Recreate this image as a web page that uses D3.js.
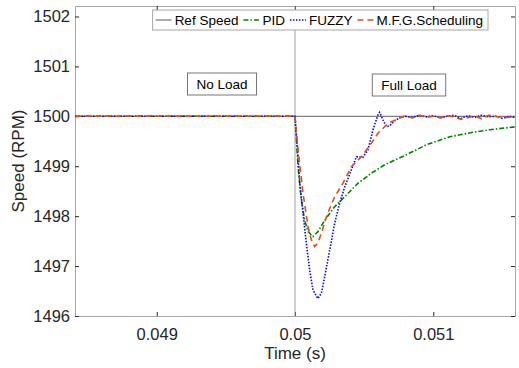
<!DOCTYPE html>
<html>
<head>
<meta charset="utf-8">
<script src="https://cdn.jsdelivr.net/npm/d3@7"></script>
<style>
  body { margin: 0; background: #fff; }
  text { font-family: "Liberation Sans", Arial, sans-serif; }
</style>
</head>
<body>
<div id="chart"></div>
<script>
// Chart size
var svgWidth = 519;
var svgHeight = 368;

var margin = { top: 6, right: 4, bottom: 52, left: 75 };
var width = svgWidth - margin.left - margin.right;
var height = svgHeight - margin.top - margin.bottom;

// ---- data ----
var seriesNames = ["Ref Speed", "PID", "FUZZY", "M.F.G.Scheduling"];

var xTicks = [0.049, 0.05, 0.051];
var xTickLabels = ["0.049", "0.05", "0.051"];
var yTicks = [1496, 1497, 1498, 1499, 1500, 1501, 1502];

var refTime = [0.04841, 0.05159];
var refSpeed = [1500, 1500];

var pidTime = [0.04841, 0.0492, 0.0498, 0.05, 0.050022, 0.050046, 0.05007, 0.050094, 0.05013, 0.050166, 0.050215,
  0.050287, 0.05036, 0.050456, 0.050552, 0.050649, 0.050806, 0.05095, 0.051119, 0.051287, 0.051408, 0.05159];
var pidSpeed = [1500, 1500, 1500, 1500, 1498.99, 1498.32, 1497.92, 1497.69, 1497.59, 1497.69, 1497.92,
  1498.19, 1498.39, 1498.66, 1498.86, 1499.03, 1499.23, 1499.43, 1499.59, 1499.68, 1499.73, 1499.79];

var fuzzyTime = [0.04841, 0.0492, 0.0498, 0.05, 0.050022, 0.050034, 0.050058, 0.050082, 0.050106, 0.05013, 0.050166,
  0.050191, 0.050215, 0.050251, 0.050287, 0.050323, 0.05036, 0.050408, 0.050444, 0.050492, 0.050528, 0.050564,
  0.0506, 0.050612, 0.050636, 0.050661, 0.050685, 0.050721, 0.050757, 0.0508, 0.05085, 0.0509, 0.05095, 0.051,
  0.05105, 0.0511, 0.05115, 0.0512, 0.05125, 0.0513, 0.05135, 0.0514, 0.05145, 0.0515, 0.05155, 0.05159];
var fuzzySpeed = [1500, 1500, 1500, 1500, 1499.19, 1498.67, 1498.06, 1497.46, 1496.92, 1496.52, 1496.35,
  1496.46, 1496.79, 1497.32, 1497.86, 1498.26, 1498.59, 1498.93, 1499.19, 1499.18, 1499.33, 1499.73,
  1500.03, 1500.08, 1499.93, 1499.79, 1499.81, 1499.91, 1499.97, 1500.0, 1499.98, 1500.02, 1499.99, 1500.01,
  1499.97, 1500.0, 1500.02, 1499.96, 1500.01, 1499.98, 1500.02, 1499.99, 1500.0, 1499.96, 1500.0, 1499.98];

var mfgTime = [0.04841, 0.0492, 0.0498, 0.05, 0.050022, 0.050058, 0.050094, 0.050119, 0.050142, 0.050166, 0.050191,
  0.050227, 0.050287, 0.050347, 0.050408, 0.05048, 0.050552, 0.0506, 0.050672, 0.050769, 0.0508, 0.05085,
  0.0509, 0.05095, 0.051, 0.05105, 0.0511, 0.05115, 0.0512, 0.05125, 0.0513, 0.05135, 0.0514, 0.05145, 0.0515, 0.05159];
var mfgSpeed = [1500, 1500, 1500, 1500, 1499.33, 1498.46, 1497.79, 1497.52, 1497.39, 1497.46, 1497.66,
  1497.99, 1498.39, 1498.66, 1498.99, 1499.19, 1499.46, 1499.66, 1499.86, 1499.98, 1500.01, 1499.97,
  1500.02, 1499.98, 1500.0, 1499.97, 1500.01, 1499.99, 1499.94, 1499.97, 1500.01, 1499.95, 1500.02, 1500.0, 1499.97, 1499.99];

// ---- svg ----
var svg = d3.select("#chart")
  .append("svg")
  .attr("width", svgWidth)
  .attr("height", svgHeight);

var chartGroup = svg.append("g")
  .attr("transform", `translate(${margin.left}, ${margin.top})`);

var xScale = d3.scaleLinear()
  .domain([0.048409, 0.051591])
  .range([0, width]);

var yScale = d3.scaleLinear()
  .domain([1496, 1502.21])
  .range([height, 0]);

// plot background
chartGroup.append("rect")
  .attr("width", width)
  .attr("height", height)
  .attr("fill", "#fff");

// axes, ticks inside like matlab
var bottomAxis = d3.axisBottom(xScale).tickValues(xTicks)
  .tickFormat((d, i) => xTickLabels[i]).tickSizeInner(-4).tickSizeOuter(0).tickPadding(12);
var leftAxis = d3.axisLeft(yScale).tickValues(yTicks).tickFormat(d3.format("d"))
  .tickSizeInner(-4).tickSizeOuter(0).tickPadding(5);
var topAxis = d3.axisTop(xScale).tickValues(xTicks).tickFormat("").tickSizeInner(-4).tickSizeOuter(0);
var rightAxis = d3.axisRight(yScale).tickValues(yTicks).tickFormat("").tickSizeInner(-4).tickSizeOuter(0);

function styleAxis(g) {
  g.select(".domain").attr("stroke", "#a6a6a6");
  g.selectAll(".tick line").attr("stroke", "#262626");
  g.selectAll(".tick text")
    .attr("fill", "#262626")
    .style("font-size", "16.5px")
    .style("font-family", "'Liberation Sans', Arial, sans-serif");
}

chartGroup.append("g").attr("transform", `translate(0, ${height})`).call(bottomAxis).call(styleAxis);
chartGroup.append("g").call(leftAxis).call(styleAxis);
chartGroup.append("g").call(topAxis).call(styleAxis);
chartGroup.append("g").attr("transform", `translate(${width}, 0)`).call(rightAxis).call(styleAxis);

// load step marker at t = 0.05
chartGroup.append("line")
  .attr("x1", xScale(0.05)).attr("x2", xScale(0.05))
  .attr("y1", 0).attr("y2", height)
  .attr("stroke", "#a0a0a0")
  .attr("stroke-width", 1);

// series
var series = [
  { name: seriesNames[0], t: refTime, v: refSpeed, color: "#808080", dash: null, w: 1.3 },
  { name: seriesNames[1], t: pidTime, v: pidSpeed, color: "#008000", dash: "5,2,1.5,2", w: 1.6 },
  { name: seriesNames[2], t: fuzzyTime, v: fuzzySpeed, color: "#0000ff", dash: "1.5,1.5", w: 1.6 },
  { name: seriesNames[3], t: mfgTime, v: mfgSpeed, color: "#d95319", dash: "6,4", w: 1.6 }
];

var line = d3.line()
  .x(d => xScale(d[0]))
  .y(d => yScale(d[1]));

var clip = svg.append("defs").append("clipPath").attr("id", "plotclip");
clip.append("rect").attr("width", width).attr("height", height);

var lines = chartGroup.append("g").attr("clip-path", "url(#plotclip)");

// draw ref first, then pid, fuzzy, mfg on top
series.forEach(function(s) {
  var pts = s.t.map((t, i) => [t, s.v[i]]);
  lines.append("path")
    .datum(pts)
    .attr("d", line)
    .attr("fill", "none")
    .attr("stroke", s.color)
    .attr("stroke-width", s.w)
    .attr("stroke-dasharray", s.dash);
});

// text boxes for load condition
function textBox(cx, cy, label) {
  var g = chartGroup.append("g");
  var t = g.append("text")
    .attr("x", cx).attr("y", cy)
    .attr("text-anchor", "middle")
    .attr("dominant-baseline", "central")
    .style("font-size", "13.5px")
    .attr("fill", "#000")
    .text(label);
  var w = t.node().getComputedTextLength();
  g.insert("rect", "text")
    .attr("x", cx - w / 2 - 9).attr("y", cy - 11)
    .attr("width", w + 18).attr("height", 22)
    .attr("fill", "#fff")
    .attr("stroke", "#555")
    .attr("stroke-width", 0.8);
}
textBox(222 - margin.left, 84 - margin.top, "No Load");
textBox(409 - margin.left, 85 - margin.top, "Full Load");

// legend
var legend = svg.append("g");
var legRect = legend.append("rect");
var lx = 0;
series.forEach(function(s) {
  legend.append("line")
    .attr("x1", lx).attr("x2", lx + 16)
    .attr("y1", 0).attr("y2", 0)
    .attr("stroke", s.color)
    .attr("stroke-width", s.w)
    .attr("stroke-dasharray", s.dash);
  var t = legend.append("text")
    .attr("x", lx + 19).attr("y", 0)
    .attr("dominant-baseline", "central")
    .style("font-size", "13.5px")
    .attr("fill", "#000")
    .text(s.name);
  lx += 19 + t.node().getComputedTextLength() + 5;
});
var legRight = 488;
var legLeft = legRight - lx - 3;
legRect
  .attr("x", -3).attr("y", -10)
  .attr("width", lx + 3).attr("height", 20)
  .attr("fill", "#fff")
  .attr("stroke", "#a6a6a6")
  .attr("stroke-width", 1);
legend.attr("transform", `translate(${legLeft + 3}, 20)`);

// axis labels
svg.append("text")
  .attr("x", margin.left + width / 2)
  .attr("y", 359)
  .attr("text-anchor", "middle")
  .style("font-size", "17px")
  .attr("fill", "#262626")
  .text("Time (s)");

svg.append("text")
  .attr("transform", "rotate(-90)")
  .attr("x", -(margin.top + height / 2))
  .attr("y", 24)
  .attr("text-anchor", "middle")
  .style("font-size", "17px")
  .attr("fill", "#262626")
  .text("Speed (RPM)");
</script>
</body>
</html>
